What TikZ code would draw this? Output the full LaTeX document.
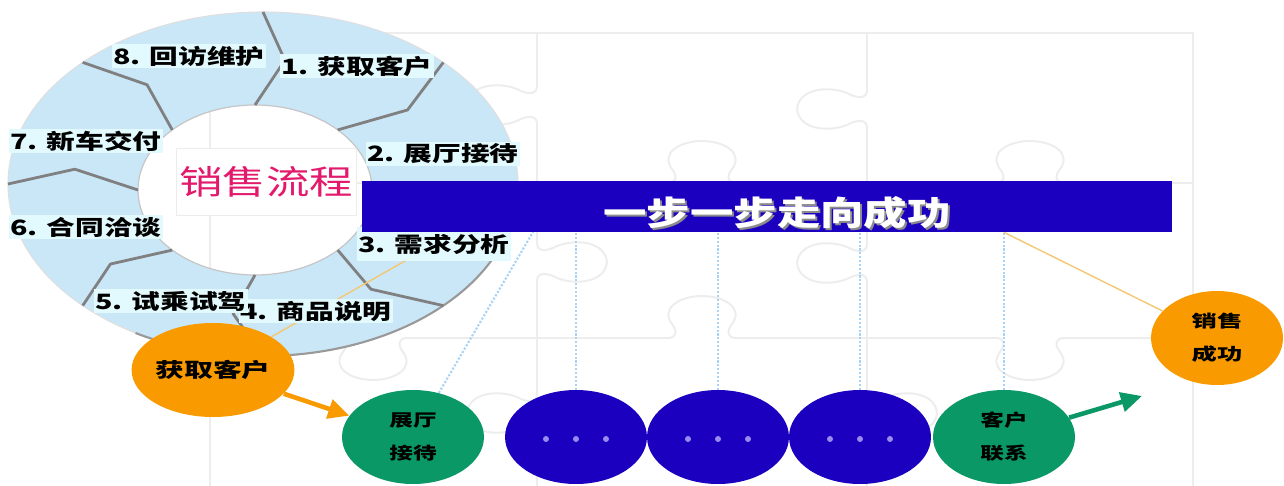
\documentclass[tikz,border=0pt]{standalone}
\usepackage{fontspec}
\usepackage{graphicx}
\usetikzlibrary{shapes.geometric,arrows.meta,calc}
\newfontfamily\cjk{Noto Sans CJK SC}

\definecolor{ringblue}{HTML}{CAE7F8}
\definecolor{tagcyan}{HTML}{E2FAFE}
\definecolor{barblue}{HTML}{1B00C0}
\definecolor{dotblue}{HTML}{A9D2F7}
\definecolor{puzzlegray}{HTML}{EDEDED}
\definecolor{custorange}{HTML}{F99B00}
\definecolor{custgreen}{HTML}{0A9866}
\definecolor{titlepink}{HTML}{E3196C}
\definecolor{dotpurple}{HTML}{9A8CEE}
\definecolor{linkorange}{HTML}{F3C774}

\newcommand{\wide}[2][1.36]{\scalebox{#1}[1]{#2}}

\pgfdeclarelayer{puzzle}
\pgfdeclarelayer{wheel}
\pgfdeclarelayer{links}
\pgfsetlayers{puzzle,wheel,links,main}

\begin{document}
\begin{tikzpicture}[x=0.02cm,y=-0.02cm,
  puzzleline/.style={draw=puzzlegray,line width=1.1pt},
  hknob/.pic={
    \draw[white,line width=3pt] (-40,0) -- (40,0);
    \draw[puzzleline] (-50,0) -- (-34,0) .. controls (-26,0) and (-24,-6) .. (-30,-14)
      .. controls (-42,-30) and (-22,-42) .. (0,-42) .. controls (22,-42) and (42,-30) .. (30,-14)
      .. controls (24,-6) and (26,0) .. (34,0) -- (50,0);},
  vknob/.pic={
    \draw[white,line width=3pt] (0,-24) -- (0,24);
    \draw[puzzleline] (0,-30) -- (0,-18) .. controls (0,-12) and (6,-10) .. (16,-14)
      .. controls (34,-24) and (68,-22) .. (70,0) .. controls (68,22) and (34,24) .. (16,14)
      .. controls (6,10) and (0,12) .. (0,18) -- (0,30);},
  divider/.style={draw=gray,line width=1.6pt,line join=round},
  tag/.style={fill=tagcyan,inner sep=1pt,font=\cjk\bfseries\fontsize{12}{12}\selectfont},
  ball/.style={ellipse,minimum width=2.84cm,minimum height=1.88cm,inner sep=0pt,align=center,
    font=\cjk\bfseries\fontsize{9.6}{18.7}\selectfont},
  motto/.style={font=\cjk\bfseries\fontsize{19}{19}\selectfont},
  dotline/.style={draw=dotblue,densely dotted,line width=1.2pt},
  linkline/.style={draw=linkorange,line width=0.8pt},
  bigarrow/.style={line width=2.6pt,-{Triangle[length=12pt,width=11pt]}}]

\useasboundingbox (0,0) rectangle (1284,486);

% puzzle behind everything
\begin{pgfonlayer}{puzzle}
  \fill[white] (0,0) rectangle (1284,486);
  \draw[puzzleline] (210,486) -- (210,33) -- (1193,33) -- (1193,486);
  \draw[puzzleline] (210,183) -- (1193,183);
  \draw[puzzleline] (210,338) -- (1193,338);
  \draw[puzzleline] (537,33) -- (537,486);
  \draw[puzzleline] (867,33) -- (867,486);
  \pic[xscale=-1] at (537,105) {vknob};
  \pic[xscale=-1] at (867,109) {vknob};
  \pic at (702,183) {hknob};
  \pic at (1030,183) {hknob};
  \pic at (537,262) {vknob};
  \pic[xscale=-1] at (867,263) {vknob};
  \pic at (702,338) {hknob};
  \pic[yscale=-1] at (1030,338) {hknob};
  \pic[yscale=-1] at (373,338) {hknob};
  \pic[xscale=-1] at (537,413) {vknob};
  \pic at (867,413) {vknob};
\end{pgfonlayer}

% the wheel
\begin{pgfonlayer}{wheel}
  \fill[ringblue,even odd rule] (263,184) ellipse [x radius=255,y radius=172]
    (255,190) ellipse [x radius=117,y radius=85];
  \draw[gray!25,line width=0.6pt] (263,184) ellipse [x radius=255,y radius=172];
  \draw[gray!80,line width=1.2pt] ({263+255*cos(10)},{184+172*sin(10)})
    arc [start angle=10,end angle=120,x radius=255,y radius=172];
  \draw[gray!45,line width=0.7pt] (255,190) ellipse [x radius=117,y radius=85];
  \foreach \a in {90,45,0,-45,-90,-135,-180,-225}
    \draw[divider] ({263+255*cos(\a)},{184-172*sin(\a)})
      -- ({259+186*cos(\a-8)},{187-128*sin(\a-8)})
      -- ({255+117*cos(\a)},{190-85*sin(\a)});
\end{pgfonlayer}

\node[tag] (s8) at (189,56) {\wide{8. 回访维护}};
\node[tag] (s1) at (357,66) {\wide{1. 获取客户}};
\node[tag] (s2) at (443,154) {\wide{2. 展厅接待}};
\node[tag,inner ysep=4pt] (s3) at (434,244) {\wide{3. 需求分析}};
\node[tag] (s4) at (316,311) {\wide{4. 商品说明}};
\node[tag] (s5) at (171,301) {\wide{5. 试乘试驾}};
\node[tag] (s6) at (86,227) {\wide{6. 合同洽谈}};
\node[tag] (s7) at (86,141) {\wide{7. 新车交付}};

\node[fill=white,draw=gray!15,minimum width=3.6cm,minimum height=1.34cm,inner sep=0pt,
  text=titlepink,font=\cjk\fontsize{19}{19}\selectfont] (title) at (266,182) {\wide[1.3]{销售流程}};

\node[fill=barblue,minimum width=16.2cm,minimum height=1.02cm,inner sep=0pt] (bar) at (767,206.5) {};
\node[motto,text=black!45] (mottoshade) at (779,215) {\wide[1.3]{一步一步走向成功}};
\node[motto,text=white] (motto) at (777,213) {\wide[1.3]{一步一步走向成功}};

\node[ball,fill=custorange,font=\cjk\bfseries\fontsize{11.3}{12}\selectfont] (get) at (213,370) {\wide[1.45]{获取客户}};
\node[ball,fill=custgreen] (c1) at (413,437) {\wide[1.4]{展厅}\\\wide[1.4]{接待}};
\node[ball,fill=barblue] (b1) at (576,437) {};
\node[ball,fill=barblue] (b2) at (718,437) {};
\node[ball,fill=barblue] (b3) at (860,437) {};
\node[ball,fill=custgreen] (c2) at (1004,437) {\wide[1.4]{客户}\\\wide[1.4]{联系}};
\node[ball,fill=custorange,minimum width=2.64cm] (win) at (1217,338) {\wide[1.5]{销售}\\\wide[1.5]{成功}};

\foreach \b in {b1,b2,b3}
  \foreach \d in {-30,0,30}
    \fill[dotpurple] ($(\b)+(\d,2)$) circle [radius=3];

% connectors under the nodes
\begin{pgfonlayer}{links}
  \coordinate (p3) at (456,232);
  \coordinate (barfoot) at (533,232);
  \draw[dotline] (c1) -- (barfoot);
  \draw[dotline] (b1.north) -- (b1.north |- bar.south);
  \draw[dotline] (b2.north) -- (b2.north |- bar.south);
  \draw[dotline] (b3.north) -- (b3.north |- bar.south);
  \draw[dotline] (c2.north) -- (c2.north |- bar.south);
  \draw[linkline] (get) -- (p3);
  \draw[linkline] (win) -- (c2 |- bar.south);
\end{pgfonlayer}

\coordinate (gtip) at (1142,396);
\draw[bigarrow,custorange] (get) -- (c1);
\draw[bigarrow,custgreen] (c2) -- (gtip);
\end{tikzpicture}
\end{document}
